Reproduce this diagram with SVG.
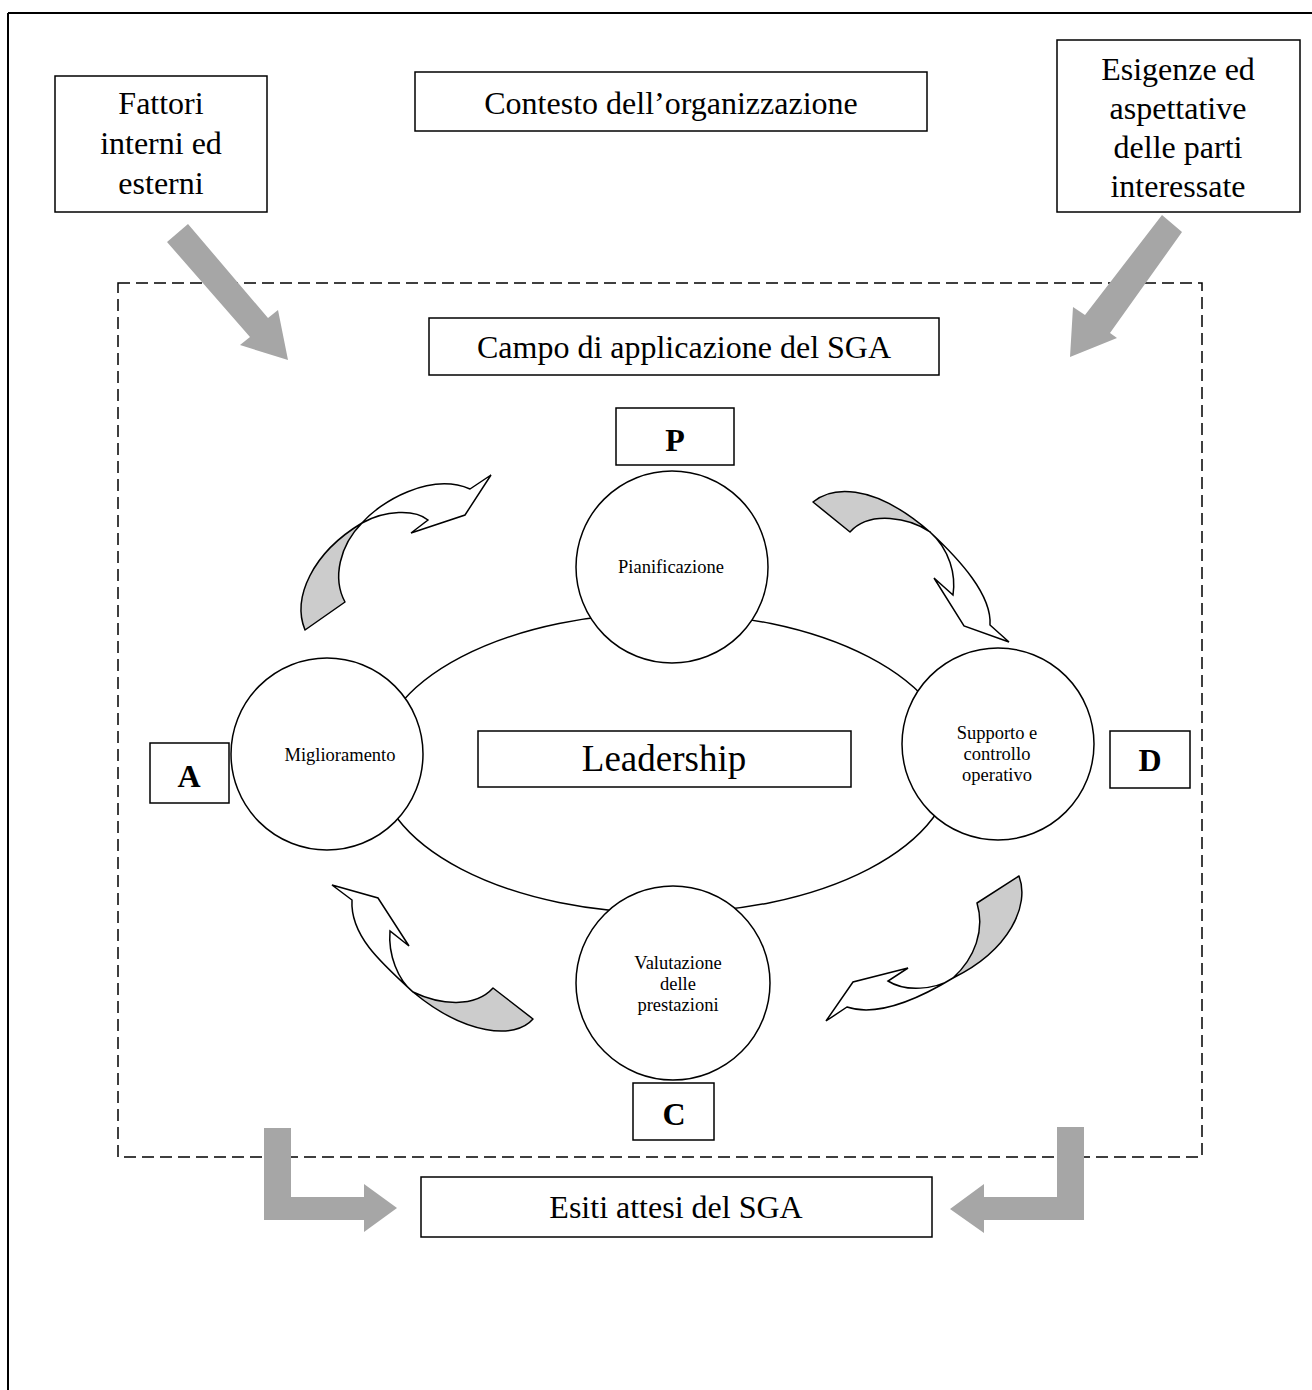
<svg xmlns="http://www.w3.org/2000/svg" width="1312" height="1390" viewBox="0 0 1312 1390">
<style>
.box{fill:#fff;stroke:#000;stroke-width:1.5}
.t{font-family:"Liberation Serif","Times New Roman",serif;font-size:32px;fill:#000;text-anchor:middle}
.b{font-weight:bold}
.s{font-family:"Liberation Serif","Times New Roman",serif;font-size:18.5px;fill:#000;text-anchor:middle}
.circ{fill:#fff;stroke:#000;stroke-width:1.5}
.big{fill:#a6a6a6;stroke:none}
.cg{fill:#cccccc;stroke:#000;stroke-width:1.5;stroke-linejoin:round}
.cw{fill:#fff;stroke:#000;stroke-width:1.5;stroke-linejoin:miter}
</style>
<rect width="1312" height="1390" fill="#fff"/>
<g id="frame">
<line x1="8" y1="13" x2="1312" y2="13" stroke="#000" stroke-width="2"/>
<line x1="8" y1="13" x2="8" y2="1390" stroke="#000" stroke-width="2"/>
</g>
<g id="scope-area">
<rect x="118" y="283" width="1084" height="874" fill="none" stroke="#000" stroke-width="1.5" stroke-dasharray="12 6"/>
</g>
<g id="connectors">
<polygon class="big" points="188,224 268,318 278,310 288,360 240,345 250,337 167,242"/>
<polygon class="big" points="1162,215 1182,232 1110,333 1117,338 1070,357 1073,307 1085,315"/>
<polygon class="big" points="264,1128 291,1128 291,1197 364,1197 364,1184 397,1208 364,1232 364,1220 264,1220"/>
<polygon class="big" points="1084,1127 1057,1127 1057,1197 984,1197 984,1184 950,1209 984,1233 984,1220 1084,1220"/>
<g id="curved-arrow-AP">
<path class="cg" d="M305,630 C292,598 312,553 362,523 C340,545 332,578 345,602 Z"/>
<path class="cw" d="M362,523 C380,502 430,472 470,489 L491,475 L465,515 L411,533 L428,520 C415,509 385,510 362,523 Z"/>
</g>
<g id="curved-arrow-PD">
<path class="cg" d="M813,502 C830,488 870,480 930,532 C910,518 870,510 850,532 Z"/>
<path class="cw" d="M930,532 C960,560 992,595 990,625 L1009,642 L964,626 L934,578 L953,595 C956,575 950,550 930,532 Z"/>
</g>
<g id="curved-arrow-DC">
<path class="cg" d="M1019,876 C1030,905 1010,950 953,978 C975,958 985,930 977,903 Z"/>
<path class="cw" d="M953,978 C925,995 880,1018 847,1007 L826,1021 L853,982 L908,968 L888,981 C905,992 935,990 953,978 Z"/>
</g>
<g id="curved-arrow-CA">
<path class="cg" d="M533,1019 C515,1040 465,1035 413,992 C440,1005 475,1008 493,988 Z"/>
<path class="cw" d="M413,992 C380,962 350,935 352,900 L332,885 L378,898 L409,946 L390,931 C388,955 398,980 413,992 Z"/>
</g>
</g>
<g id="node-fattori">
<rect class="box" x="55" y="76" width="212" height="136"/>
<text class="t" x="161" y="114">Fattori</text>
<text class="t" x="161" y="154">interni ed</text>
<text class="t" x="161" y="194">esterni</text>
</g>
<g id="node-contesto">
<rect class="box" x="415" y="72" width="512" height="59"/>
<text class="t" x="671" y="114">Contesto dell’organizzazione</text>
</g>
<g id="node-esigenze">
<rect class="box" x="1057" y="40" width="243" height="172"/>
<text class="t" x="1178" y="80">Esigenze ed</text>
<text class="t" x="1178" y="119">aspettative</text>
<text class="t" x="1178" y="158">delle parti</text>
<text class="t" x="1178" y="197">interessate</text>
</g>
<g id="node-campo">
<rect class="box" x="429" y="318" width="510" height="57"/>
<text class="t" x="684" y="358">Campo di applicazione del SGA</text>
</g>
<g id="node-leadership">
<ellipse cx="665" cy="763" rx="288" ry="150" fill="#fff" stroke="#000" stroke-width="1.5"/>
<rect class="box" x="478" y="731" width="373" height="56"/>
<text class="t" x="664" y="771" style="font-size:37px">Leadership</text>
</g>
<g id="node-pianificazione">
<circle class="circ" cx="672" cy="567" r="96"/>
<text class="s" x="671" y="573">Pianificazione</text>
</g>
<g id="node-miglioramento">
<circle class="circ" cx="327" cy="754" r="96"/>
<text class="s" x="340" y="761">Miglioramento</text>
</g>
<g id="node-supporto">
<circle class="circ" cx="998" cy="744" r="96"/>
<text class="s" x="997" y="739">Supporto e</text>
<text class="s" x="997" y="760">controllo</text>
<text class="s" x="997" y="781">operativo</text>
</g>
<g id="node-valutazione">
<circle class="circ" cx="673" cy="983" r="97"/>
<text class="s" x="678" y="969">Valutazione</text>
<text class="s" x="678" y="990">delle</text>
<text class="s" x="678" y="1011">prestazioni</text>
</g>
<g id="node-P">
<rect class="box" x="616" y="408" width="118" height="57"/>
<text class="t b" x="675" y="451">P</text>
</g>
<g id="node-A">
<rect class="box" x="150" y="743" width="79" height="60"/>
<text class="t b" x="189" y="787">A</text>
</g>
<g id="node-D">
<rect class="box" x="1110" y="731" width="80" height="57"/>
<text class="t b" x="1150" y="771">D</text>
</g>
<g id="node-C">
<rect class="box" x="633" y="1083" width="81" height="57"/>
<text class="t b" x="674" y="1125">C</text>
</g>
<g id="node-esiti">
<rect class="box" x="421" y="1177" width="511" height="60"/>
<text class="t" x="676" y="1218">Esiti attesi del SGA</text>
</g>
</svg>
